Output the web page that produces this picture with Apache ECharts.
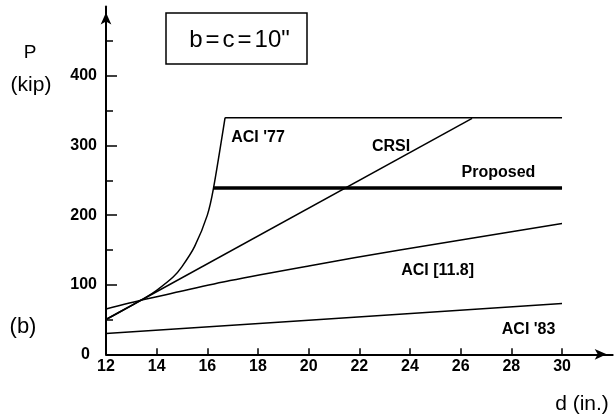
<!DOCTYPE html>
<html>
<head>
<meta charset="utf-8">
<script src="https://cdn.jsdelivr.net/npm/echarts@6/dist/echarts.min.js"></script>
<style>
html,body{margin:0;padding:0;background:#fff;}
#chart{width:615px;height:419px;}
</style>
</head>
<body>
<div id="chart"></div>
<script>
// ---- data ----
const xLabelValues = [12, 14, 16, 18, 20, 22, 24, 26, 28, 30];
const xTickValues = [14, 16, 18, 20, 22, 24, 26, 28, 30];
const yLabelValues = [0, 100, 200, 300, 400];
const yMajorTicks = [100, 200, 300, 400];
const yMinorTicks = [50, 150, 250, 350, 450];

// ACI '77 (curve, then plateau)
const aci77D = [12, 13, 13.54, 14, 14.65, 15, 15.5, 16, 16.24, 16.7, 30];
const aci77P = [50, 70, 81, 92, 111, 126, 155, 200, 238, 340, 340];
// CRSI
const crsiD = [12, 26.45];
const crsiP = [50, 339];
// Proposed
const propD = [16.24, 30];
const propP = [239, 239];
// ACI [11.8]
const aci118D = [12, 13.54, 14.65, 16.9, 20, 23.6, 30];
const aci118P = [65, 79, 88, 106, 127, 150, 188];
// ACI '83
const aci83D = [12, 20, 30];
const aci83P = [30, 49, 73];

const seriesNames = ["ACI '77", "CRSI", "Proposed", "ACI [11.8]", "ACI '83"];

// ---- build ----
const zip = (a, b) => a.map((v, i) => [v, b[i]]);
const FONT = "'Liberation Sans', Arial, Helvetica, sans-serif";
const plateauStart = aci77D.indexOf(16.7);

function lbl(name, coord) {
  return {
    symbol: 'circle', symbolSize: 0, silent: true,
    data: [{ coord: coord, value: name }],
    label: { show: true, position: 'inside', formatter: name, color: '#000',
             fontFamily: FONT, fontWeight: 'bold', fontSize: 16 }
  };
}
const lineBase = { type: 'line', showSymbol: false, symbol: 'none', animation: false,
                   lineStyle: { color: '#000', width: 1.5 }, z: 3 };

const chart = echarts.init(document.getElementById('chart'), null, { renderer: 'canvas' });
const axisLineStyle = { color: '#000', width: 2 };

chart.setOption({
  animation: false,
  backgroundColor: '#fff',
  grid: { left: 106, top: 6.4, width: 506.7, height: 347.9 },
  xAxis: {
    type: 'value', min: 12, max: 32,
    axisLine: { show: true, lineStyle: axisLineStyle, symbol: ['none', 'arrow'],
                symbolSize: [8, 12], symbolOffset: [0, -6] },
    axisTick: { show: true, inside: true, length: 6, customValues: xTickValues,
                lineStyle: { color: '#000', width: 1.5 } },
    axisLabel: { show: true, customValues: xLabelValues, margin: 4, color: '#000',
                 fontFamily: FONT, fontWeight: 'bold', fontSize: 16 },
    splitLine: { show: false }
  },
  yAxis: [{
    type: 'value', min: 0, max: 500,
    axisLine: { show: true, lineStyle: axisLineStyle, symbol: ['none', 'arrow'],
                symbolSize: [8, 12], symbolOffset: [0, -6] },
    axisTick: { show: true, inside: true, length: 11, customValues: yMajorTicks,
                lineStyle: { color: '#000', width: 1.5 } },
    axisLabel: { show: true, customValues: yLabelValues, margin: 9, color: '#000',
                 fontFamily: FONT, fontWeight: 'bold', fontSize: 16,
                 formatter: v => v === 0 ? '{z|0}' : String(v),
                 rich: { z: { fontFamily: FONT, fontWeight: 'bold', fontSize: 16, color: '#000', padding: [0, 7, 0, 0] } } },
    splitLine: { show: false }
  }, {
    type: 'value', min: 0, max: 500, position: 'left', offset: 0,
    axisLine: { show: false },
    axisTick: { show: true, inside: true, length: 7, customValues: yMinorTicks,
                lineStyle: { color: '#000', width: 1.5 } },
    axisLabel: { show: false },
    splitLine: { show: false }
  }],
  series: [
    Object.assign({}, lineBase, { name: seriesNames[0], smooth: 0.25,
      data: zip(aci77D, aci77P).slice(0, plateauStart + 1),
      markPoint: lbl(seriesNames[0], [18.0, 311]) }),
    Object.assign({}, lineBase, { name: seriesNames[0] + ' cap',
      data: zip(aci77D, aci77P).slice(plateauStart) }),
    Object.assign({}, lineBase, { name: seriesNames[1], data: zip(crsiD, crsiP),
      markPoint: lbl(seriesNames[1], [23.25, 299]) }),
    Object.assign({}, lineBase, { name: seriesNames[2], data: zip(propD, propP),
      lineStyle: { color: '#000', width: 3.5 },
      markPoint: lbl(seriesNames[2], [27.49, 261]) }),
    Object.assign({}, lineBase, { name: seriesNames[3], smooth: 0.3,
      data: zip(aci118D, aci118P),
      markPoint: lbl(seriesNames[3], [25.09, 120]) }),
    Object.assign({}, lineBase, { name: seriesNames[4], data: zip(aci83D, aci83P),
      markPoint: lbl(seriesNames[4], [28.68, 36]) })
  ],
  graphic: [
    { type: 'rect', shape: { x: 166, y: 13, width: 141, height: 51 },
      style: { fill: 'none', stroke: '#000', lineWidth: 1.5 } },
    { type: 'text', x: 239.5, y: 40.5,
      style: { text: '{t|b}{s|=}{t|c}{s|=}{t|10"}', align: 'center', verticalAlign: 'middle',
               rich: { t: { fontFamily: FONT, fontSize: 24, fill: '#000' },
                       s: { fontFamily: FONT, fontSize: 24, fill: '#000', padding: [0, 3] } } } },
    { type: 'text', x: 30, y: 53, style: { text: 'P', fontFamily: FONT, fontSize: 19, fill: '#000',
      align: 'center', verticalAlign: 'middle' } },
    { type: 'text', x: 31, y: 85, style: { text: '(kip)', fontFamily: FONT, fontSize: 21, fill: '#000',
      align: 'center', verticalAlign: 'middle' } },
    { type: 'text', x: 23, y: 327, style: { text: '(b)', fontFamily: FONT, fontSize: 22, fill: '#000',
      align: 'center', verticalAlign: 'middle' } },
    { type: 'text', x: 582, y: 404, style: { text: 'd (in.)', fontFamily: FONT, fontSize: 21, fill: '#000',
      align: 'center', verticalAlign: 'middle' } }
  ]
});
</script>
</body>
</html>
